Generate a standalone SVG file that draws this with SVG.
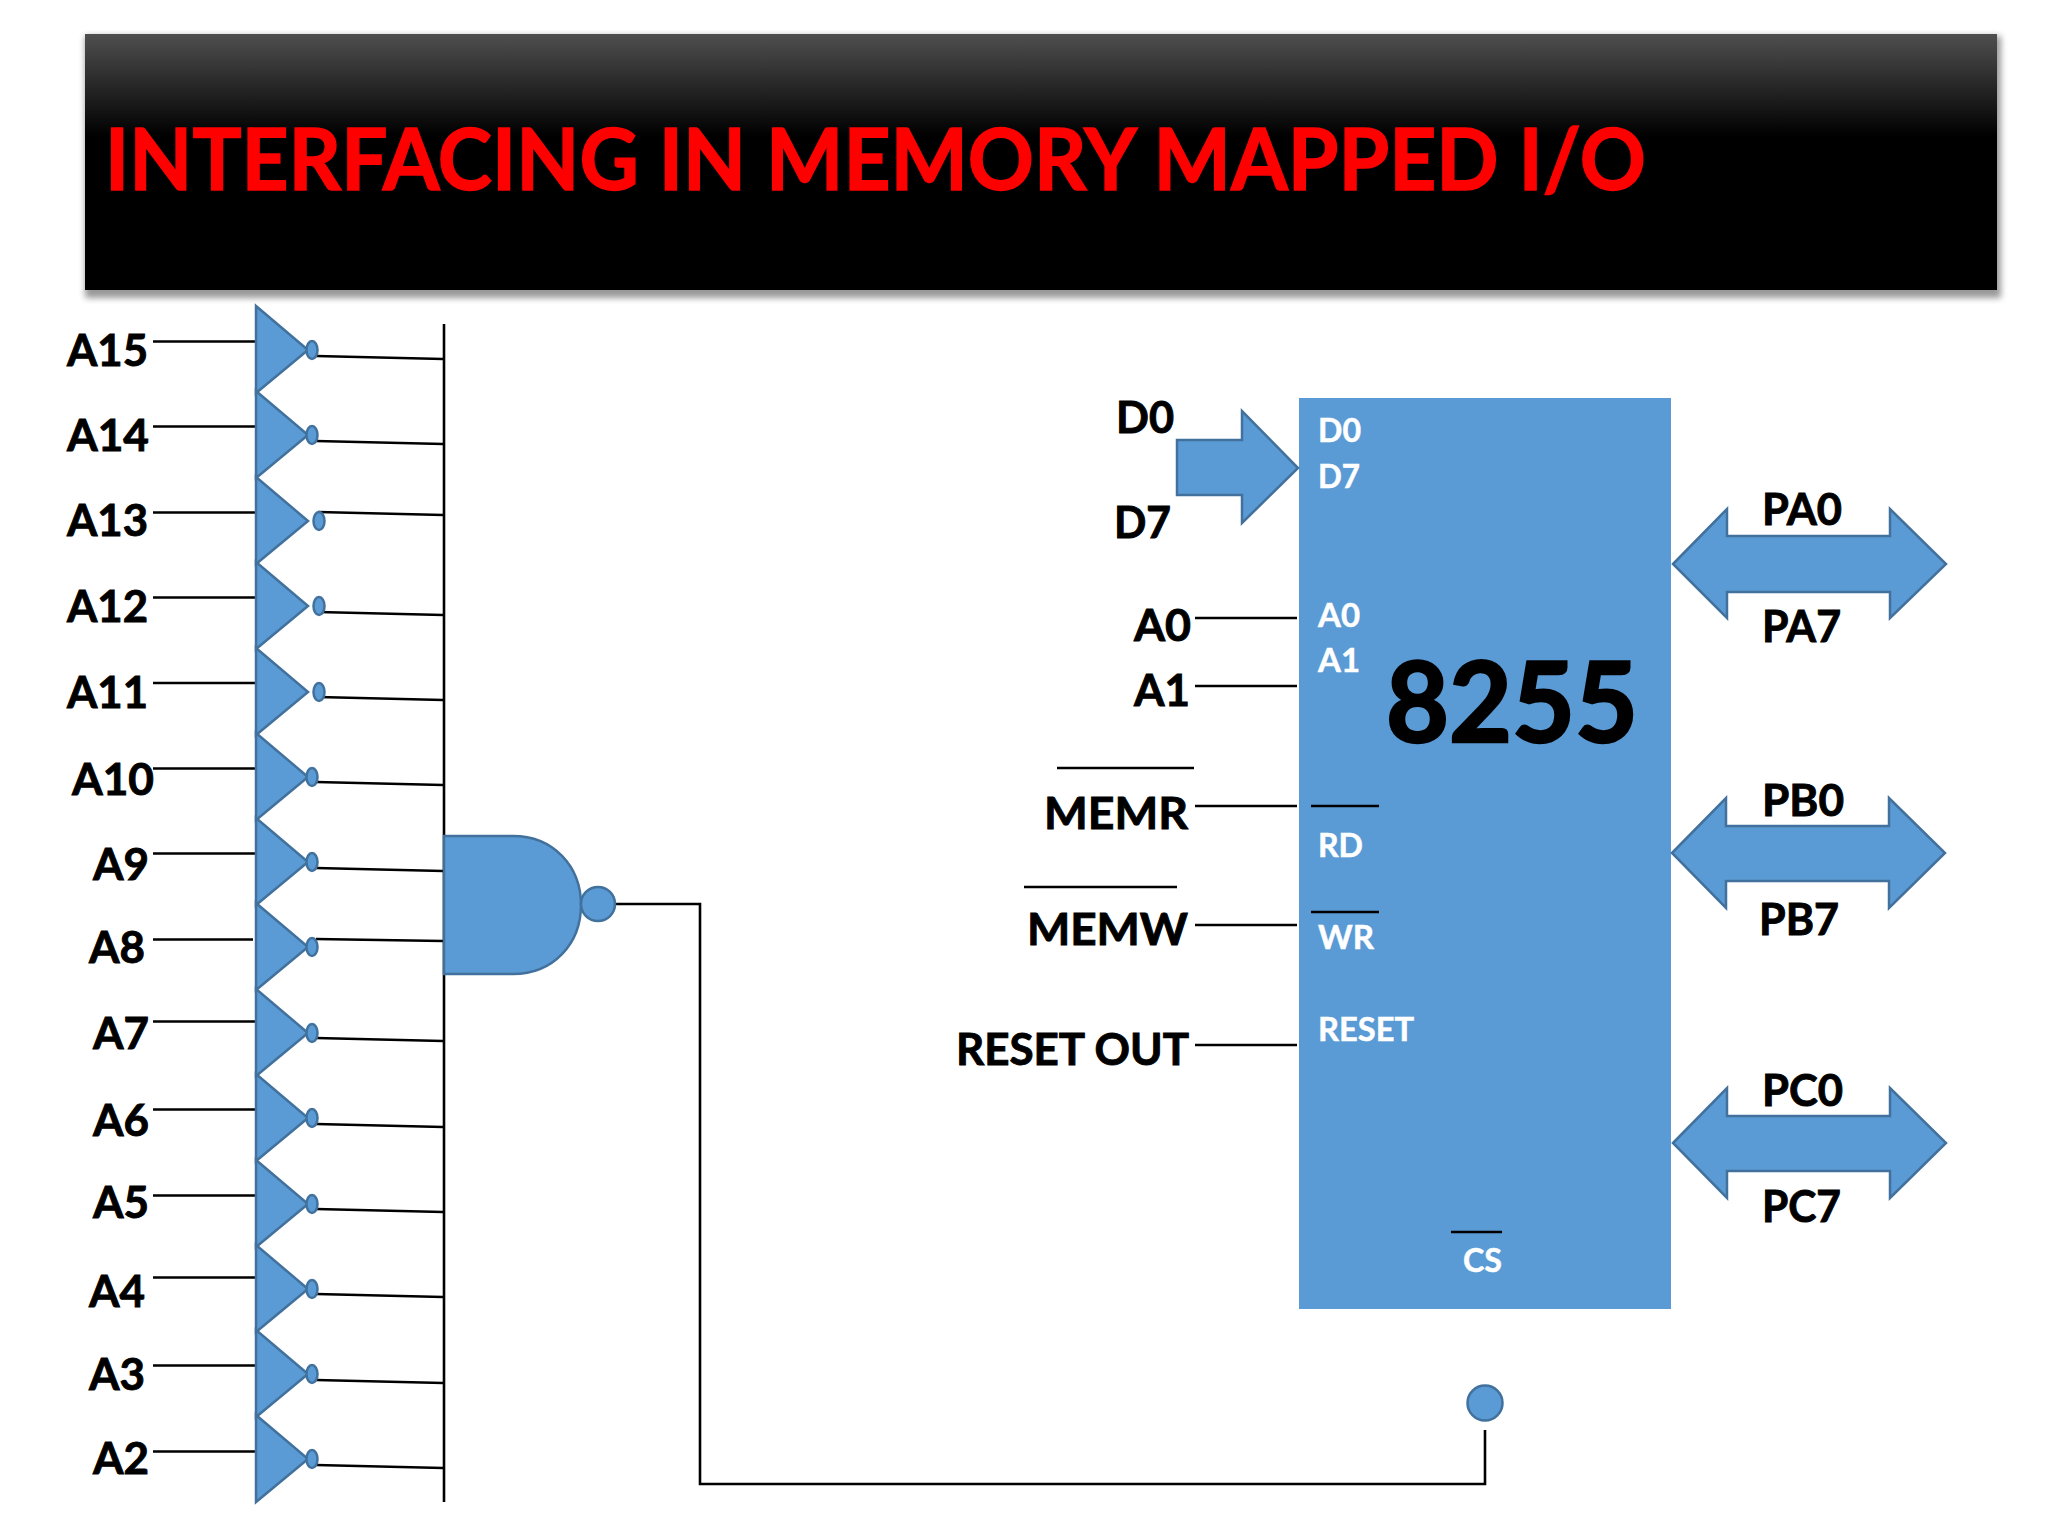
<svg xmlns="http://www.w3.org/2000/svg" width="2048" height="1536" viewBox="0 0 2048 1536">
<style>
text{font-family:"Lato","Open Sans","Liberation Sans",sans-serif;font-weight:700}
.k{fill:#000;stroke:#000;stroke-width:.9px;font-size:44px}
.w{fill:#fff;stroke:#fff;stroke-width:.5px;font-size:33px}
.s{fill:#5b9bd5;stroke:#41719c;stroke-width:2.5}
.l{stroke:#000;stroke-width:2.6;fill:none}
</style>
<defs>
<linearGradient id="hg" x1="0" y1="0" x2="0" y2="1"><stop offset="0" stop-color="#4f4f4f"/><stop offset="0.4" stop-color="#000"/><stop offset="1" stop-color="#000"/></linearGradient>
<filter id="sh" x="-2%" y="-10%" width="104%" height="120%"><feGaussianBlur stdDeviation="3"/></filter>
<path id="tri" class="s" d="M0-44 52 0 0 43Z"/>
<ellipse id="bub" class="s" rx="5.5" ry="9"/>
</defs>
<rect width="2048" height="1536" fill="#fff"/>
<g id="header">
<rect x="85" y="36" width="1916" height="262" fill="#000" opacity="0.4" filter="url(#sh)"/>
<rect x="85" y="34" width="1912" height="256" fill="url(#hg)"/>
<text x="105" y="190" font-size="86" fill="#f00" stroke="#f00" stroke-width="1.4" textLength="1541" lengthAdjust="spacingAndGlyphs">INTERFACING IN MEMORY MAPPED I/O</text>
</g>
<g id="connectors">
<path class="l" d="M153 341.500H256M153 426.500H256M153 512.500H256M153 597.500H256M153 683H256M153 768.500H256M153 853.500H256M153 939.500H253M153 1021.500H256M153 1109.500H256M153 1195.500H256M153 1277.500H256M153 1365.500H256M153 1451.500H256"/>
<path class="l" d="M316 356 443 359M316 441 443 444M318 512 443 515M318 612 443 615M318 697 443 700M316 782 443 785M316 868 443 871M316 939 443 941M316 1038 443 1041M316 1124 443 1127M316 1209 443 1212M316 1294 443 1297M316 1380 443 1383M316 1465 443 1468"/>
<path class="l" d="M444 324V1502"/>
<path class="l" d="M615 904H700V1484H1485V1430"/>
<path class="l" d="M1195 618H1297M1195 686H1297M1195 806H1297M1195 925H1297M1195 1045H1297"/>
<path class="l" d="M1057 768H1194M1024 887H1177"/>
</g>
<g id="inv-A15"><use href="#tri" x="256" y="350"/><use href="#bub" x="312" y="350"/><text class="k" x="67" y="366" textLength="81" lengthAdjust="spacingAndGlyphs">A15</text></g>
<g id="inv-A14"><use href="#tri" x="256" y="435"/><use href="#bub" x="312" y="435"/><text class="k" x="67" y="451" textLength="82" lengthAdjust="spacingAndGlyphs">A14</text></g>
<g id="inv-A13"><use href="#tri" x="256" y="521"/><use href="#bub" x="319" y="521"/><text class="k" x="67" y="536" textLength="81" lengthAdjust="spacingAndGlyphs">A13</text></g>
<g id="inv-A12"><use href="#tri" x="256" y="606"/><use href="#bub" x="319" y="606"/><text class="k" x="67" y="622" textLength="81" lengthAdjust="spacingAndGlyphs">A12</text></g>
<g id="inv-A11"><use href="#tri" x="256" y="692"/><use href="#bub" x="319" y="692"/><text class="k" x="67" y="708" textLength="81" lengthAdjust="spacingAndGlyphs">A11</text></g>
<g id="inv-A10"><use href="#tri" x="256" y="777"/><use href="#bub" x="312" y="777"/><text class="k" x="72" y="795" textLength="82" lengthAdjust="spacingAndGlyphs">A10</text></g>
<g id="inv-A9"><use href="#tri" x="256" y="862"/><use href="#bub" x="312" y="862"/><text class="k" x="93" y="880" textLength="56" lengthAdjust="spacingAndGlyphs">A9</text></g>
<g id="inv-A8"><use href="#tri" x="256" y="947"/><use href="#bub" x="312" y="947"/><text class="k" x="89" y="963" textLength="56" lengthAdjust="spacingAndGlyphs">A8</text></g>
<g id="inv-A7"><use href="#tri" x="256" y="1033"/><use href="#bub" x="312" y="1033"/><text class="k" x="93" y="1049" textLength="56" lengthAdjust="spacingAndGlyphs">A7</text></g>
<g id="inv-A6"><use href="#tri" x="256" y="1118"/><use href="#bub" x="312" y="1118"/><text class="k" x="93" y="1136" textLength="56" lengthAdjust="spacingAndGlyphs">A6</text></g>
<g id="inv-A5"><use href="#tri" x="256" y="1204"/><use href="#bub" x="312" y="1204"/><text class="k" x="93" y="1218" textLength="56" lengthAdjust="spacingAndGlyphs">A5</text></g>
<g id="inv-A4"><use href="#tri" x="256" y="1289"/><use href="#bub" x="312" y="1289"/><text class="k" x="89" y="1307" textLength="56" lengthAdjust="spacingAndGlyphs">A4</text></g>
<g id="inv-A3"><use href="#tri" x="256" y="1374"/><use href="#bub" x="312" y="1374"/><text class="k" x="89" y="1390" textLength="56" lengthAdjust="spacingAndGlyphs">A3</text></g>
<g id="inv-A2"><use href="#tri" x="256" y="1459"/><use href="#bub" x="312" y="1459"/><text class="k" x="93" y="1474" textLength="56" lengthAdjust="spacingAndGlyphs">A2</text></g>
<g id="nand">
<path class="s" d="M444 836H513C553 836 581 866 581 905S553 974 513 974H444Z"/>
<circle class="s" cx="598" cy="904" r="17"/>
</g>
<g id="cs-pin"><circle class="s" cx="1485" cy="1403" r="17.500"/></g>
<g id="chip">
<rect x="1299" y="398" width="372" height="911" fill="#5b9bd5"/>
<path class="l" d="M1311 806H1379M1311 912H1379M1451 1232H1502"/>
<text class="w" x="1318" y="442" textLength="43" lengthAdjust="spacingAndGlyphs">D0</text>
<text class="w" x="1318" y="488" textLength="42" lengthAdjust="spacingAndGlyphs">D7</text>
<text class="w" x="1318" y="627" textLength="42" lengthAdjust="spacingAndGlyphs">A0</text>
<text class="w" x="1318" y="672" textLength="42" lengthAdjust="spacingAndGlyphs">A1</text>
<text class="w" x="1318" y="857" textLength="45" lengthAdjust="spacingAndGlyphs">RD</text>
<text class="w" x="1318" y="949" textLength="56" lengthAdjust="spacingAndGlyphs">WR</text>
<text class="w" x="1318" y="1041" textLength="96" lengthAdjust="spacingAndGlyphs">RESET</text>
<text class="w" x="1463" y="1272" textLength="39" lengthAdjust="spacingAndGlyphs">CS</text>
<text x="1386" y="742" font-size="112" fill="#000" stroke="#000" stroke-width="2.6" textLength="252" lengthAdjust="spacingAndGlyphs">8255</text>
</g>
<g id="d-bus">
<path class="s" d="M1177 440H1242V411L1298 468 1242 523V495H1177Z"/>
<text class="k" x="1116" y="433" textLength="58" lengthAdjust="spacingAndGlyphs">D0</text>
<text class="k" x="1114" y="538" textLength="57" lengthAdjust="spacingAndGlyphs">D7</text>
</g>
<g id="inputs">
<text class="k" x="1134" y="641" textLength="57" lengthAdjust="spacingAndGlyphs">A0</text>
<text class="k" x="1134" y="706" textLength="56" lengthAdjust="spacingAndGlyphs">A1</text>
<text class="k" x="1044" y="829" textLength="144" lengthAdjust="spacingAndGlyphs">MEMR</text>
<text class="k" x="1027" y="945" textLength="161" lengthAdjust="spacingAndGlyphs">MEMW</text>
<text class="k" x="956" y="1065" textLength="233" lengthAdjust="spacingAndGlyphs">RESET OUT</text>
</g>
<g id="port-a">
<path class="s" d="M1673 564 1727 509V536H1890V509L1946 564 1890 618V592H1727V618Z"/>
<text class="k" x="1762" y="525" textLength="80" lengthAdjust="spacingAndGlyphs">PA0</text>
<text class="k" x="1762" y="642" textLength="79" lengthAdjust="spacingAndGlyphs">PA7</text>
</g>
<g id="port-b">
<path class="s" d="M1672 853 1726 798V826H1889V798L1945 853 1889 908V881H1726V908Z"/>
<text class="k" x="1762" y="816" textLength="82" lengthAdjust="spacingAndGlyphs">PB0</text>
<text class="k" x="1759" y="935" textLength="80" lengthAdjust="spacingAndGlyphs">PB7</text>
</g>
<g id="port-c">
<path class="s" d="M1673 1143 1727 1088V1116H1890V1088L1946 1143 1890 1198V1171H1727V1198Z"/>
<text class="k" x="1762" y="1106" textLength="81" lengthAdjust="spacingAndGlyphs">PC0</text>
<text class="k" x="1762" y="1222" textLength="79" lengthAdjust="spacingAndGlyphs">PC7</text>
</g>
</svg>
